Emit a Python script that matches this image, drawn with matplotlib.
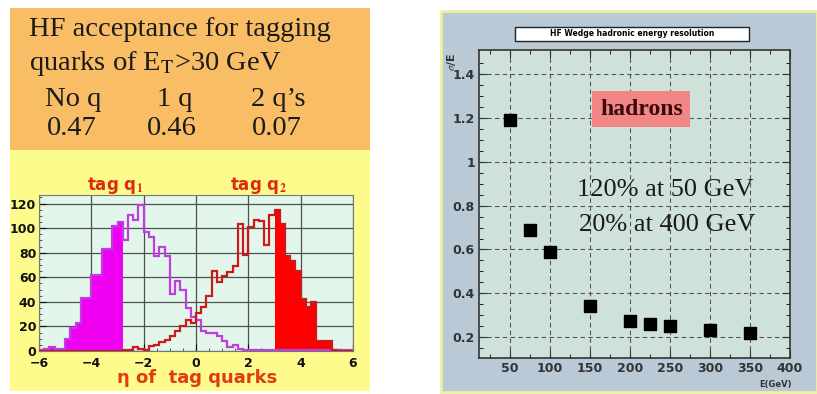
import numpy as np
import matplotlib
matplotlib.use("Agg")
from matplotlib import pyplot as plt
from matplotlib.patches import Rectangle

plt.rcParams['mathtext.fontset'] = 'stix'

# eta bins of the tag-quark histogram (width 0.2, -6 .. 6)
eta_edges = np.round(np.arange(-6.0, 6.01, 0.2), 2)
q1_counts = [1, 1.5, 3.5, 2, 1.5, 10, 19, 23, 43, 43, 62, 62, 83, 83, 102, 105,
             90, 111, 107, 119, 97, 93, 77, 85, 77, 46, 57, 50, 35, 28,
             25, 16, 15, 15, 12, 8, 3, 5, 2,
             1, 1, 1, 1, 1, 1, 1, 1, 1, 1, 1, 1, 1, 1, 1, 1, 1, 1, 1, 1, 1]
q2_counts = [0, 0, 0, 0, 0, 0, 0, 0, 0, 0, 0, 0, 0, 0, 0, 0,
             1, 1, 3, 2, 1, 4, 5, 7, 9, 12, 16, 20, 25, 23,
             31, 36, 45, 65, 56, 61, 64, 69, 103, 78, 101, 107, 106, 86, 111,
             115, 103, 77, 73, 65, 42, 36, 40, 8, 8, 8, 1, 0, 0, 0]
q1_fill_bins = 16   # eta < -2.8
q2_fill_from = 45   # eta > 3.0

# HF wedge resolution
energy = [50, 75, 100, 150, 200, 225, 250, 300, 350]
resolution = [1.19, 0.69, 0.59, 0.34, 0.275, 0.26, 0.25, 0.235, 0.22]

header_lines = ["HF acceptance for tagging", r"quarks of E$_\mathrm{T}$>30 GeV"]
cases = ["No q", "1 q", "2 q\u2019s"]
acceptance = ["0.47", "0.46", "0.07"]

W, H = 817, 394
fig = plt.figure(figsize=(W / 100, H / 100), dpi=100)
fig.patch.set_facecolor("white")

def fx(x):
    return x / W

def fy(y):
    return 1 - y / H

# left panel backgrounds
fig.patches.append(Rectangle((fx(10), fy(150)), fx(360), 142 / H, transform=fig.transFigure,
                             facecolor="#f9bd66", edgecolor="none", zorder=-5))
fig.patches.append(Rectangle((fx(10), fy(391)), fx(360), 241 / H, transform=fig.transFigure,
                             facecolor="#fdfb8c", edgecolor="none", zorder=-5))
# right panel background
fig.patches.append(Rectangle((fx(441), fy(392)), fx(376), 381 / H, transform=fig.transFigure,
                             facecolor="#b9c9d6", edgecolor="#eef0a0", lw=2, zorder=-5))

serif = "Liberation Serif"
fig.text(fx(29), fy(30), header_lines[0], family=serif, fontsize=20.5, va="center", color="#1a1a1a")
fig.text(fx(29), fy(63), header_lines[1], family=serif, fontsize=20.5, va="center", color="#1a1a1a")
for cx, c in zip([73, 175, 278], cases):
    fig.text(fx(cx), fy(99), c, family=serif, fontsize=20.5, ha="center", va="center", color="#1a1a1a")
for cx, a in zip([72, 172, 277], acceptance):
    fig.text(fx(cx), fy(129), a, family=serif, fontsize=20.5, ha="center", va="center", color="#1a1a1a")

# histogram
ax = fig.add_axes([fx(39), fy(351), fx(314), 156 / H])
ax.set_zorder(2)
ax.set_facecolor("#e2f6ec")
ax.stairs(q1_counts[:q1_fill_bins], eta_edges[:q1_fill_bins + 1], fill=True, color="#f000f0", zorder=2)
ax.stairs(q2_counts[q2_fill_from:], eta_edges[q2_fill_from:], fill=True, color="#ff0000", zorder=2)
ax.stairs(q1_counts, eta_edges, color="#c03ee0", lw=1.6, zorder=3)
ax.stairs(q2_counts, eta_edges, color="#cc1a1a", lw=1.6, zorder=3)
ax.set_xlim(-6, 6)
ax.set_ylim(0, 127)
ax.set_xticks([-6, -4, -2, 0, 2, 4, 6])
ax.set_yticks([0, 20, 40, 60, 80, 100, 120])
ax.set_xticks(np.arange(-6, 6.1, 0.5), minor=True)
ax.set_yticks(np.arange(0, 127, 5), minor=True)
ax.grid(True, color="#505050", lw=0.9, zorder=1)
ax.set_axisbelow(True)
ax.tick_params(direction="in", length=5, labelsize=9, colors="#111111", pad=2)
ax.tick_params(axis="x", pad=4)
ax.tick_params(which="minor", direction="in", length=2.5, colors="#444444")
for lab in ax.get_xticklabels() + ax.get_yticklabels():
    lab.set_fontweight("bold")
for s in ax.spines.values():
    s.set_color("#777777")
fig.text(fx(197), fy(378), "\u03b7 of  tag quarks", fontsize=13, fontweight="bold",
         color="#e23a12", ha="center", va="center")
fig.text(fx(115), fy(186), r"tag q$_\mathbf{1}$", fontsize=12, fontweight="bold",
         color="#dd2a10", ha="center", va="center")
fig.text(fx(258), fy(186), r"tag q$_\mathbf{2}$", fontsize=12, fontweight="bold",
         color="#dd2a10", ha="center", va="center")

# resolution plot
ax2 = fig.add_axes([fx(479), fy(358), fx(311), 308 / H])
ax2.set_zorder(2)
ax2.set_facecolor("#cfe2da")
ax2.scatter(energy, resolution, marker="s", s=85, color="black", zorder=3)
ax2.set_xlim(11, 398)
ax2.set_ylim(0.105, 1.51)
ax2.set_xticks([50, 100, 150, 200, 250, 300, 350, 400])
ax2.set_yticks([0.2, 0.4, 0.6, 0.8, 1.0, 1.2, 1.4])
ax2.set_yticklabels(["0.2", "0.4", "0.6", "0.8", "1", "1.2", "1.4"])
ax2.set_xticks(np.arange(25, 400, 25), minor=True)
ax2.set_yticks(np.arange(0.15, 1.5, 0.05), minor=True)
ax2.grid(True, color="#555555", lw=0.8, ls=(0, (4, 3)), zorder=1)
ax2.tick_params(direction="in", length=6, labelsize=9, colors="#333333", pad=3,
                top=True, right=True)
ax2.tick_params(which="minor", direction="in", length=3, top=True, right=True)
for lab in ax2.get_xticklabels() + ax2.get_yticklabels():
    lab.set_fontweight("bold")
for s in ax2.spines.values():
    s.set_color("#333333")
    s.set_linewidth(1.2)

fig.patches.append(Rectangle((fx(515), fy(41)), fx(234), 14 / H, transform=fig.transFigure,
                             facecolor="white", edgecolor="#222222", lw=1, zorder=4))
fig.text(fx(632), fy(34), "HF Wedge hadronic energy resolution", fontsize=5.5,
         fontweight="bold", ha="center", va="center", zorder=5)
fig.text(fx(451), fy(62), r"$\sigma$/E", fontsize=8, fontweight="bold", rotation=90,
         ha="center", va="center", color="#333333")
fig.text(fx(775), fy(384), "E(GeV)", fontsize=6, fontweight="bold", ha="center",
         va="center", color="#333333")

ax2.text(0.522, 0.807, "hadrons", transform=ax2.transAxes, family=serif, fontsize=17,
         fontweight="bold", ha="center", va="center", color="#3a0a0a",
         bbox=dict(boxstyle="square,pad=0.32", facecolor="#f28585", edgecolor="none"))
ax2.text(0.6, 0.545, "120% at 50 GeV", transform=ax2.transAxes, family=serif,
         fontsize=19, ha="center", va="center", color="#1a1a1a")
ax2.text(0.605, 0.432, "20% at 400 GeV", transform=ax2.transAxes, family=serif,
         fontsize=19, ha="center", va="center", color="#1a1a1a")

fig.savefig("out.png", dpi=100)
